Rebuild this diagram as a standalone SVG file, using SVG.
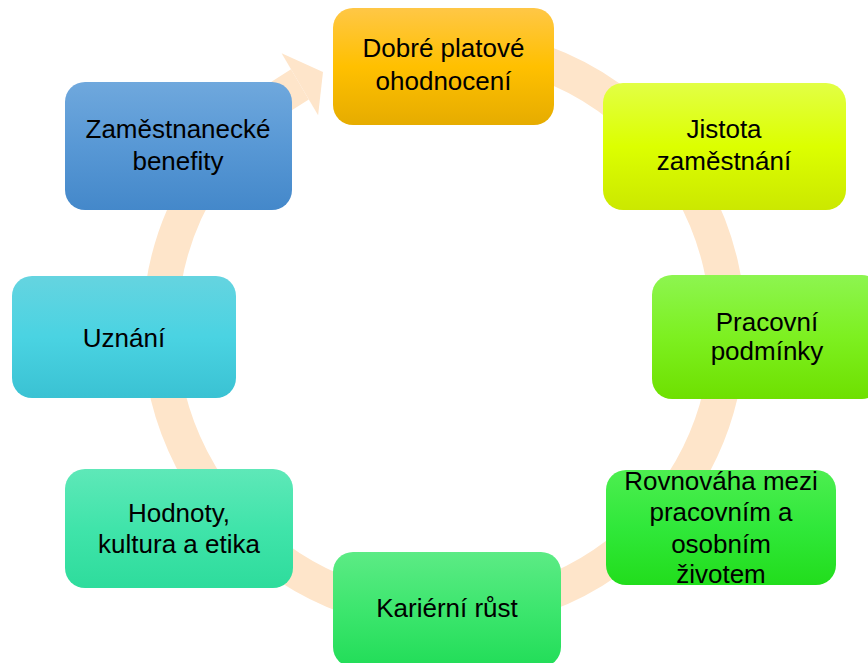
<svg xmlns="http://www.w3.org/2000/svg" width="868" height="663" viewBox="0 0 868 663">
<style>
.lbl{font-family:"Liberation Sans",Arial,sans-serif;font-size:26px;fill:#000;text-anchor:middle}
.ring{fill:none;stroke:#FEE5CA;stroke-width:35}
.head{fill:#FEE5CA}
</style>
<defs>
<linearGradient id="g1" x1="0" y1="0" x2="0" y2="1"><stop offset="0" stop-color="#FFC746"/><stop offset="0.5" stop-color="#FFC000"/><stop offset="1" stop-color="#E6AC00"/></linearGradient>
<linearGradient id="g2" x1="0" y1="0" x2="0" y2="1"><stop offset="0" stop-color="#E2FF45"/><stop offset="0.5" stop-color="#DCFF00"/><stop offset="1" stop-color="#CBE800"/></linearGradient>
<linearGradient id="g3" x1="0" y1="0" x2="0" y2="1"><stop offset="0" stop-color="#8DF550"/><stop offset="0.5" stop-color="#7DF020"/><stop offset="1" stop-color="#6EE000"/></linearGradient>
<linearGradient id="g4" x1="0" y1="0" x2="0" y2="1"><stop offset="0" stop-color="#4DEE50"/><stop offset="0.5" stop-color="#30E83A"/><stop offset="1" stop-color="#22DD1C"/></linearGradient>
<linearGradient id="g5" x1="0" y1="0" x2="0" y2="1"><stop offset="0" stop-color="#5CEB85"/><stop offset="0.5" stop-color="#3DE66E"/><stop offset="1" stop-color="#22DD58"/></linearGradient>
<linearGradient id="g6" x1="0" y1="0" x2="0" y2="1"><stop offset="0" stop-color="#5EE8B8"/><stop offset="0.5" stop-color="#40E4AA"/><stop offset="1" stop-color="#2EDC9C"/></linearGradient>
<linearGradient id="g7" x1="0" y1="0" x2="0" y2="1"><stop offset="0" stop-color="#65D4E0"/><stop offset="0.5" stop-color="#4AD3E2"/><stop offset="1" stop-color="#3AC2D3"/></linearGradient>
<linearGradient id="g8" x1="0" y1="0" x2="0" y2="1"><stop offset="0" stop-color="#6FA8DD"/><stop offset="0.5" stop-color="#5898D5"/><stop offset="1" stop-color="#4488CA"/></linearGradient>
</defs>
<g id="connectors">
<path class="ring" d="M 394.7 49.3 A 284 284 0 1 1 299.9 84.3"/>
<polygon class="head" points="281.6,53.3 323,72 318.1,115.3"/>
</g>
<g id="n1"><rect x="333" y="8" width="221" height="117" rx="20" fill="url(#g1)"/><text class="lbl" x="443.5" y="57">Dobré platové</text><text class="lbl" x="443.5" y="90">ohodnocení</text></g>
<g id="n2"><rect x="603" y="83" width="243" height="127" rx="20" fill="url(#g2)"/><text class="lbl" x="724" y="138">Jistota</text><text class="lbl" x="724" y="170">zaměstnání</text></g>
<g id="n3"><rect x="652" y="275" width="230" height="124" rx="20" fill="url(#g3)"/><text class="lbl" x="767" y="331">Pracovní</text><text class="lbl" x="767" y="360">podmínky</text></g>
<g id="n4"><rect x="606" y="470" width="230" height="115" rx="20" fill="url(#g4)"/><text class="lbl" x="721" y="490">Rovnováha mezi</text><text class="lbl" x="721" y="521">pracovním a</text><text class="lbl" x="721" y="553">osobním</text><text class="lbl" x="721" y="583">životem</text></g>
<g id="n5"><rect x="333" y="552" width="228" height="115" rx="20" fill="url(#g5)"/><text class="lbl" x="447" y="617">Kariérní růst</text></g>
<g id="n6"><rect x="65" y="469" width="228" height="119" rx="20" fill="url(#g6)"/><text class="lbl" x="179" y="522">Hodnoty,</text><text class="lbl" x="179" y="553">kultura a etika</text></g>
<g id="n7"><rect x="12" y="276" width="224" height="122" rx="20" fill="url(#g7)"/><text class="lbl" x="124" y="347">Uznání</text></g>
<g id="n8"><rect x="65" y="82" width="227" height="128" rx="20" fill="url(#g8)"/><text class="lbl" x="178" y="138">Zaměstnanecké</text><text class="lbl" x="178" y="170">benefity</text></g>
</svg>
